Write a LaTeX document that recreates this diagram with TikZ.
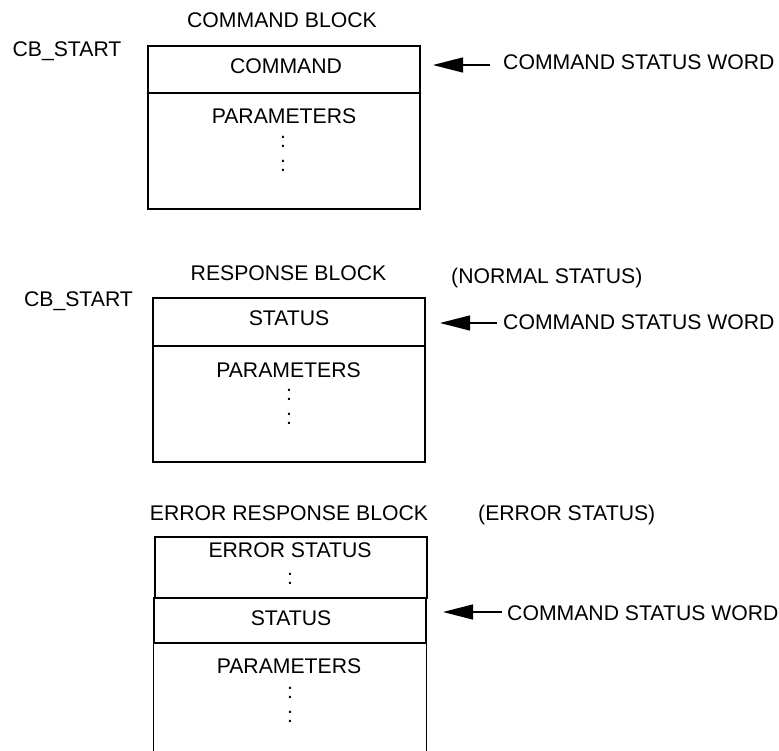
\documentclass[tikz,border=0pt]{standalone}
\usepackage{fontspec}
\setmainfont{Liberation Sans}
\usetikzlibrary{arrows.meta}
\begin{document}
\begin{tikzpicture}[x=1pt,y=-1pt,
  lbl/.style={inner sep=0pt, anchor=base, font=\fontsize{21.2pt}{25pt}\selectfont},
  lblw/.style={lbl, anchor=base west},
  field/.style={draw, line width=1.3pt, inner sep=0pt, minimum width=272pt},
  edge/.style={line width=1.3pt},
  ptr/.style={line width=1.3pt, -{Triangle[length=30pt,width=15pt]}}]
\useasboundingbox (0,0) rectangle (779,751);

% ---------- Command block ----------
\node[lbl] (t1) at (282,27.5) {COMMAND BLOCK};
\node[lbl] (cbs1) at (67,56.7) {CB\_START};
\node[field, minimum height=47pt] (cmd1) at (284,69.5) {};
\node[field, minimum height=116pt] (par1) at (284,151) {};
\node[lbl] (cmdt1) at (286,74) {COMMAND};
\node[lbl] (part1) at (284,123.3) {PARAMETERS};
\node[lbl] (c1a) at (283,148) {:};
\node[lbl] (c1b) at (283,171.5) {:};
\node[lblw] (csw1) at (503,70) {COMMAND STATUS WORD};
\coordinate (a1s) at (490,65);
\coordinate (a1e) at (433,65);
\draw[ptr] (a1s) -- (a1e);

% ---------- Response block ----------
\node[lbl] (t2) at (288.5,280.7) {RESPONSE BLOCK};
\node[lblw] (ns) at (451,284) {(NORMAL STATUS)};
\node[lbl] (cbs2) at (78.5,306.7) {CB\_START};
\node[field, minimum height=48pt] (st2) at (289,322) {};
\node[field, minimum height=116pt] (par2) at (289,404) {};
\node[lbl] (stt2) at (289,326) {STATUS};
\node[lbl] (part2) at (288.5,377) {PARAMETERS};
\node[lbl] (c2a) at (289,400) {:};
\node[lbl] (c2b) at (289,424) {:};
\node[lblw] (csw2) at (503,330) {COMMAND STATUS WORD};
\coordinate (a2s) at (497,323);
\coordinate (a2e) at (440,323);
\draw[ptr] (a2s) -- (a2e);

% ---------- Error response block ----------
\node[lbl] (t3) at (289,520) {ERROR RESPONSE BLOCK};
\node[lblw] (es) at (478,520) {(ERROR STATUS)};
\node[field, minimum height=61pt] (err3) at (291,567.5) {};
\node[field, minimum height=45pt] (st3) at (290,620.5) {};
\node[lbl] (errt3) at (290,557.7) {ERROR STATUS};
\node[lbl] (c3e) at (290,584) {:};
\node[lbl] (stt3) at (291,625) {STATUS};
\node[lbl] (part3) at (289,673) {PARAMETERS};
\node[lbl] (c3a) at (290,698) {:};
\node[lbl] (c3b) at (290,722) {:};
\coordinate (bot) at (0,752);
\draw[edge] (st3.south west) -- (st3.south west |- bot);
\draw[edge] (st3.south east) -- (st3.south east |- bot);
\node[lblw] (csw3) at (507,620) {COMMAND STATUS WORD};
\coordinate (a3s) at (502,612);
\coordinate (a3e) at (443,612);
\draw[ptr] (a3s) -- (a3e);
\end{tikzpicture}
\end{document}
